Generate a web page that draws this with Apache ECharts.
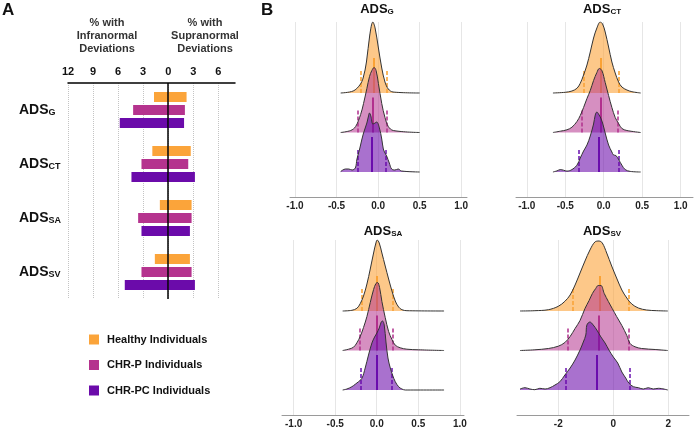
<!DOCTYPE html>
<html><head><meta charset="utf-8">
<script src="https://cdn.jsdelivr.net/npm/echarts@6/dist/echarts.min.js"></script>
<style>html,body{margin:0;padding:0;background:#fff}#c{width:694px;height:432px}</style>
</head><body><div id="c"></div>
<script>
// ---------- Panel A data ----------
const measures = ['G', 'CT', 'SA', 'SV'];
const groups = ['Healthy Individuals', 'CHR-P Individuals', 'CHR-PC Individuals'];
const infraHealthy = [1.7, 1.9, 1.0, 1.6];
const infraChrp    = [4.2, 3.2, 3.6, 3.2];
const infraChrpc   = [5.8, 4.4, 3.2, 5.2];
const supraHealthy = [2.2, 2.7, 2.8, 2.6];
const supraChrp    = [2.0, 2.4, 2.8, 2.8];
const supraChrpc   = [1.9, 3.2, 2.6, 3.2];
const tickStepA = 3;

// ---------- Panel B data (x, scaled density) ----------
const gHealthyX = [-0.45, -0.30, -0.22, -0.18, -0.14, -0.10, -0.063, -0.036, 0.004, 0.044, 0.083, 0.123, 0.18, 0.5];
const gHealthyD = [0, 2, 8, 15, 31, 58, 71, 65, 45, 25, 11, 4, 1, 0];
const gChrpX = [-0.45, -0.33, -0.27, -0.21, -0.175, -0.135, -0.103, -0.075, -0.048, -0.024, 0.004, 0.044, 0.083, 0.123, 0.183, 0.5];
const gChrpD = [0, 2, 6, 18, 29, 44, 56, 62, 65, 62, 49, 29, 15, 6, 2, 0];
const gChrpcX = [-0.45, -0.393, -0.353, -0.313, -0.274, -0.254, -0.222, -0.194, -0.175, -0.155, -0.135, -0.115, -0.103, -0.087, -0.063, -0.036, -0.016, 0.016, 0.044, 0.063, 0.083, 0.103, 0.135, 0.163, 0.202, 0.242, 0.282, 0.5];
const gChrpcD = [0.5, 3, 3, 2, 4, 13, 23, 33, 39, 44, 49, 56, 59, 56, 48, 49, 50, 44, 33, 23, 19, 16, 9, 3, 2, 3, 1, 0];

const ctHealthyX = [-0.66, -0.50, -0.413, -0.348, -0.305, -0.262, -0.218, -0.175, -0.132, -0.089, -0.045, -0.015, 0.019, 0.063, 0.106, 0.149, 0.193, 0.236, 0.301, 0.366, 0.48];
const ctHealthyD = [0, 0.7, 2, 4.7, 9.7, 18, 28, 41, 55, 65, 71, 69, 61, 46, 31, 20, 11, 6, 3, 1.3, 0];
const ctChrpX = [-0.66, -0.565, -0.478, -0.413, -0.348, -0.305, -0.262, -0.218, -0.175, -0.132, -0.089, -0.058, -0.024, 0.019, 0.063, 0.106, 0.149, 0.193, 0.236, 0.301, 0.48];
const ctChrpD = [0, 1.3, 2.7, 5.3, 11, 17, 25, 34, 42, 52, 60, 64, 62, 50, 37, 25, 15, 9, 4, 2, 0];
const ctChrpcX = [-0.66, -0.608, -0.565, -0.522, -0.478, -0.413, -0.348, -0.305, -0.262, -0.218, -0.175, -0.132, -0.11, -0.089, -0.067, -0.045, -0.015, 0.019, 0.063, 0.106, 0.127, 0.158, 0.193, 0.236, 0.279, 0.344, 0.48];
const ctChrpcD = [0, 1.1, 2.4, 1.8, 0.9, 2.4, 6.8, 14, 21, 27, 36, 48, 57, 60, 58, 55, 49, 39, 27, 20, 17, 16.5, 12.6, 6.8, 2.4, 0.6, 0];

const saHealthyX = [-0.41, -0.299, -0.239, -0.199, -0.159, -0.118, -0.078, -0.038, -0.01, 0.006, 0.03, 0.062, 0.102, 0.143, 0.183, 0.223, 0.263, 0.303, 0.363, 0.81];
const saHealthyD = [0, 0.7, 2.7, 7.3, 15, 27, 42, 58, 68, 71, 68, 58, 45, 32, 20, 10, 4, 1.3, 0.3, 0];
const saChrpX = [-0.41, -0.339, -0.279, -0.239, -0.199, -0.159, -0.118, -0.078, -0.038, -0.01, 0.01, 0.034, 0.062, 0.102, 0.143, 0.183, 0.223, 0.283, 0.363, 0.504, 0.81];
const saChrpD = [0, 1.3, 3.3, 7.7, 14, 23, 34, 48, 61, 67, 68, 63, 49, 33, 19, 11, 5.3, 2.7, 1.3, 0.7, 0];
const saChrpcX = [-0.41, -0.359, -0.299, -0.259, -0.219, -0.178, -0.139, -0.099, -0.058, -0.026, 0.002, 0.03, 0.054, 0.07, 0.09, 0.111, 0.135, 0.163, 0.19, 0.223, 0.263, 0.303, 0.343, 0.81];
const saChrpcD = [0, 1, 3.3, 5.7, 8.3, 11.7, 22, 35, 47, 53, 57, 62, 68, 69, 65, 48, 32, 22, 15, 8.3, 3.3, 1, 0, 0];

const svHealthyX = [-3.39, -2.85, -2.36, -2.0, -1.76, -1.57, -1.39, -1.21, -1.03, -0.85, -0.67, -0.52, -0.4, -0.24, -0.06, 0.12, 0.31, 0.49, 0.67, 0.91, 1.21, 1.58, 1.98];
const svHealthyD = [0, 0.3, 1.3, 4.7, 9.7, 16, 26, 38, 50, 61, 69, 70, 68, 58, 45, 33, 21, 13, 7, 3, 1, 0.3, 0];
const svChrpX = [-3.39, -2.85, -2.36, -2.0, -1.76, -1.57, -1.39, -1.21, -1.03, -0.88, -0.76, -0.64, -0.55, -0.45, -0.33, -0.18, -0.04, 0.12, 0.31, 0.49, 0.61, 0.79, 1.03, 1.52, 1.98];
const svChrpD = [0, 0.7, 2, 4.3, 8, 14, 22, 30, 42, 50, 57, 62, 65, 65, 57, 49, 42, 34, 25, 15, 7, 3.7, 2, 1, 0];
const svChrpcX = [-3.39, -3.21, -3.03, -2.85, -2.67, -2.48, -2.3, -2.12, -1.94, -1.76, -1.57, -1.39, -1.21, -1.09, -1.0, -0.96, -0.85, -0.73, -0.6, -0.45, -0.3, -0.16, 0, 0.16, 0.31, 0.45, 0.57, 0.73, 0.91, 1.09, 1.27, 1.45, 1.64, 1.98];
const svChrpcD = [1, 2.3, 1, 0.3, 1.7, 1, 2.3, 5, 8.3, 15, 22, 30, 40, 48, 55, 65, 68, 65, 60, 53, 47, 40, 33, 27, 18, 12, 6.7, 3.3, 2.3, 1, 2.3, 1, 1.7, 0];

// quantile lines [lower, median, upper]
const gHealthyQ = [-0.21, -0.05, 0.10];
const gChrpQ    = [-0.25, -0.06, 0.10];
const gChrpcQ   = [-0.25, -0.075, 0.095];
const ctHealthyQ = [-0.26, -0.04, 0.19];
const ctChrpQ    = [-0.29, -0.045, 0.185];
const ctChrpcQ   = [-0.325, -0.06, 0.20];
const saHealthyQ = [-0.18, 0.0, 0.195];
const saChrpQ    = [-0.207, -0.005, 0.195];
const saChrpcQ   = [-0.19, 0.0, 0.18];
const svHealthyQ = [-1.48, -0.48, 0.57];
const svChrpQ    = [-1.64, -0.52, 0.57];
const svChrpcQ   = [-1.72, -0.6, 0.58];

// ---------- styling ----------
const FONT = 'Liberation Sans';
const barColors = ['#FBA43A', '#B5338E', '#6B0BAA'];
const fillColors = ['rgba(251,164,58,0.6)', 'rgba(181,51,142,0.55)', 'rgba(107,11,170,0.58)'];
const qColors = ['#F7A02C', '#B02E8C', '#6A12B0'];
const ridgeBase = [79, 39.5, 0];

const panels = [
  { sub: 'G',  grid: { left: 290, top: 22, width: 177, height: 175 }, min: -1.06, max: 1.07, split: 5, digits: 1, tx: 377, ty: 9,
    ridges: [[gHealthyX, gHealthyD, gHealthyQ], [gChrpX, gChrpD, gChrpQ], [gChrpcX, gChrpcD, gChrpcQ]] },
  { sub: 'CT', grid: { left: 516, top: 22, width: 177, height: 175 }, min: -1.14, max: 1.16, split: 5, digits: 1, tx: 602, ty: 9,
    ridges: [[ctHealthyX, ctHealthyD, ctHealthyQ], [ctChrpX, ctChrpD, ctChrpQ], [ctChrpcX, ctChrpcD, ctChrpcQ]] },
  { sub: 'SA', grid: { left: 282, top: 240, width: 182, height: 175 }, min: -1.14, max: 1.05, split: 5, digits: 1, tx: 383, ty: 231,
    ridges: [[saHealthyX, saHealthyD, saHealthyQ], [saChrpX, saChrpD, saChrpQ], [saChrpcX, saChrpcD, saChrpcQ]] },
  { sub: 'SV', grid: { left: 517, top: 240, width: 172, height: 175 }, min: -3.5, max: 2.75, split: 3, digits: 0, tx: 602, ty: 231,
    ridges: [[svHealthyX, svHealthyD, svHealthyQ], [svChrpX, svChrpD, svChrpQ], [svChrpcX, svChrpcD, svChrpcQ]] }
];

const grids = [{ left: 68, top: 83, width: 167, height: 216 }];
const xAxes = [{
  type: 'value', gridIndex: 0, position: 'top', min: -12, max: 8, interval: tickStepA,
  axisLine: { show: true, onZero: false, lineStyle: { color: '#000', width: 1.5 } },
  axisTick: { show: false },
  axisLabel: { formatter: v => String(Math.abs(v)), showMaxLabel: false, fontSize: 11, fontWeight: 'bold', color: '#111', margin: 6, fontFamily: FONT },
  splitLine: { show: true, showMaxLine: false, lineStyle: { type: 'dotted', color: '#c4c4c4', width: 1 } }
}];
const yAxes = [{
  type: 'category', gridIndex: 0, data: measures, inverse: true,
  axisLine: { show: false }, axisTick: { show: false },
  axisLabel: {
    align: 'left', margin: 49, formatter: v => '{a|ADS}{b|' + v + '}',
    rich: {
      a: { fontSize: 14, fontWeight: 'bold', color: '#111', fontFamily: FONT },
      b: { fontSize: 9, fontWeight: 'bold', color: '#111', fontFamily: FONT, padding: [6, 0, 0, 0] }
    }
  }
}];

const series = [];
const infraAll = [infraHealthy, infraChrp, infraChrpc];
const supraAll = [supraHealthy, supraChrp, supraChrpc];
groups.forEach((name, gi) => {
  const common = { type: 'bar', name, stack: 's' + gi, xAxisIndex: 0, yAxisIndex: 0, barWidth: 10, barGap: '30%',
    itemStyle: { color: barColors[gi] }, silent: true };
  series.push(Object.assign({}, common, { data: infraAll[gi].map(v => -v) }));
  series.push(Object.assign({}, common, { data: supraAll[gi] }));
});
series[0].markLine = { symbol: 'none', silent: true, label: { show: false },
  lineStyle: { color: '#000', type: 'solid', width: 1.5 }, data: [{ xAxis: 0 }] };

const graphics = [
  { type: 'text', x: 2, y: 2, style: { text: 'A', fontSize: 17, fontWeight: 'bold', fontFamily: FONT, fill: '#111' } },
  { type: 'text', x: 261, y: 2, style: { text: 'B', fontSize: 17, fontWeight: 'bold', fontFamily: FONT, fill: '#111' } },
  { type: 'text', x: 107, y: 16, style: { text: '% with\nInfranormal\nDeviations', fontSize: 11, fontWeight: 'bold', fontFamily: FONT, fill: '#333', align: 'center', lineHeight: 13 } },
  { type: 'text', x: 205, y: 16, style: { text: '% with\nSupranormal\nDeviations', fontSize: 11, fontWeight: 'bold', fontFamily: FONT, fill: '#333', align: 'center', lineHeight: 13 } }
];

panels.forEach((p, pi) => {
  const ai = pi + 1;
  grids.push(p.grid);
  xAxes.push({
    type: 'value', gridIndex: ai, min: p.min, max: p.max, splitNumber: p.split,
    axisLine: { show: true, onZero: false, lineStyle: { color: '#9a9a9a', width: 1 } },
    axisTick: { show: false },
    axisLabel: { formatter: v => v.toFixed(p.digits), showMinLabel: false, showMaxLabel: false, fontSize: 10, fontWeight: 'bold', color: '#222', margin: 4, fontFamily: FONT },
    splitLine: { show: true, showMinLine: false, showMaxLine: false, lineStyle: { color: '#e6e6e6', width: 1 } }
  });
  yAxes.push({ type: 'value', gridIndex: ai, min: -25, max: 150, show: false });
  graphics.push({ type: 'text', x: p.tx, y: p.ty, style: {
    text: '{a|ADS}{b|' + p.sub + '}', align: 'center', verticalAlign: 'middle',
    rich: { a: { fontSize: 13, fontWeight: 'bold', fill: '#111', fontFamily: FONT },
            b: { fontSize: 8, fontWeight: 'bold', fill: '#111', fontFamily: FONT, padding: [5, 0, 0, 0] } } } });
  p.ridges.forEach((r, gi) => {
    const base = ridgeBase[gi];
    series.push({
      type: 'line', xAxisIndex: ai, yAxisIndex: ai, silent: true, symbol: 'none', smooth: 0.35,
      data: r[0].map((x, i) => [x, base + r[1][i]]),
      lineStyle: { color: '#333', width: 1 },
      areaStyle: { color: fillColors[gi], origin: base, opacity: 1 }
    });
    const q = r[2];
    series.push({
      type: 'lines', coordinateSystem: 'cartesian2d', xAxisIndex: ai, yAxisIndex: ai, silent: true,
      lineStyle: { color: qColors[gi], opacity: 1 },
      data: [
        { coords: [[q[1], base], [q[1], base + 35]], lineStyle: { type: 'solid', width: 2 } },
        { coords: [[q[0], base], [q[0], base + 23]], lineStyle: { type: [4, 2], width: 1.5 } },
        { coords: [[q[2], base], [q[2], base + 23]], lineStyle: { type: [4, 2], width: 1.5 } }
      ]
    });
  });
});

const chart = echarts.init(document.getElementById('c'));
chart.setOption({
  animation: false,
  textStyle: { fontFamily: FONT },
  grid: grids, xAxis: xAxes, yAxis: yAxes, series,
  legend: {
    data: groups, orient: 'vertical', left: 84, top: 329, itemWidth: 10, itemHeight: 10, itemGap: 14.5,
    icon: 'rect', selectedMode: false,
    textStyle: { fontSize: 11, fontWeight: 'bold', color: '#111', fontFamily: FONT, padding: [0, 0, 0, 3] }
  },
  graphic: graphics
});
</script></body></html>
